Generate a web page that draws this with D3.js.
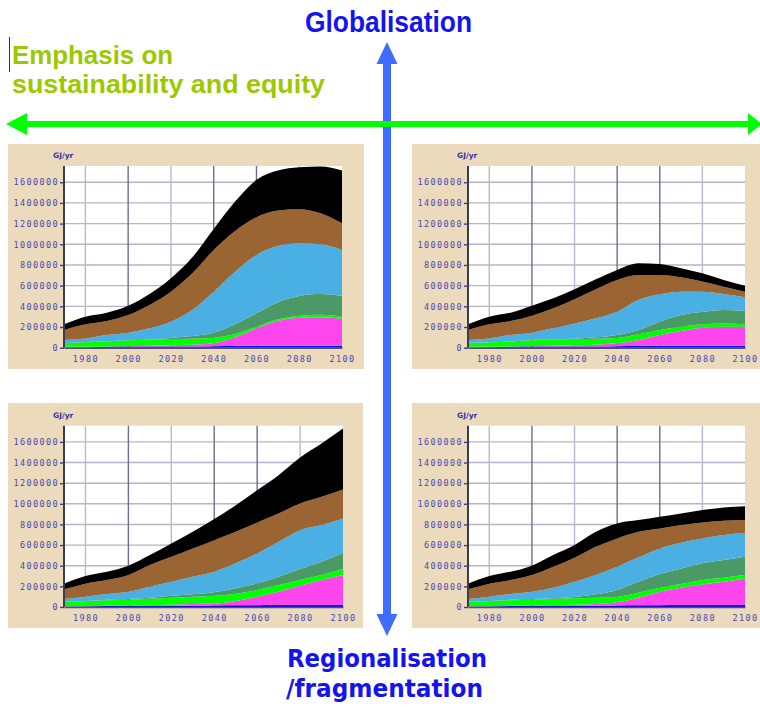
<!DOCTYPE html>
<html>
<head>
<meta charset="utf-8">
<script src="https://cdnjs.cloudflare.com/ajax/libs/d3/7.8.5/d3.min.js"></script>
<style>
body{margin:0;background:#fff;}
svg{display:block;}
.tick text{font-family:"DejaVu Sans Mono",monospace;font-size:8.5px;letter-spacing:1.4px;fill:#4848b4;}
</style>
</head>
<body>
<div id="chart"></div>
<script>
// years sampled every 10 years, 1970-2100
var years = [1970,1980,1990,2000,2010,2020,2030,2040,2050,2060,2070,2080,2090,2100];
// top edge of each stacked band, thousand GJ/yr
// top-left: globalisation + sustainability
var tlBlue    = [3,4,10,12,12,12,12,14,16,18,20,20,20,20];
var tlMagenta = [8,8,12,14,19,23,29,42,100,187,258,290,294,277];
var tlGreen   = [42,52,61,71,77,84,87,97,132,203,274,310,319,300];
var tlDkGreen = [44,54,63,73,80,94,113,145,226,332,439,500,519,500];
var tlLtBlue  = [74,90,123,145,187,252,365,542,735,897,984,1010,1000,945];
var tlBrown   = [171,226,258,316,413,542,719,945,1129,1261,1326,1339,1300,1203];
var tlBlack   = [226,300,339,406,519,671,874,1148,1413,1623,1713,1745,1752,1713];
// top-right: globalisation
var trBlue    = [3,4,10,12,12,12,12,14,16,18,20,20,20,20];
var trMagenta = [8,8,12,14,19,23,29,42,74,123,161,194,203,203];
var trGreen   = [42,52,61,71,77,84,87,94,129,171,203,226,235,226];
var trDkGreen = [48,52,61,74,81,87,100,123,171,252,316,348,365,355];
var trLtBlue  = [74,90,123,145,187,235,284,348,461,516,542,542,519,487];
var trBrown   = [171,226,258,310,381,468,565,655,703,703,681,639,590,542];
var trBlack   = [226,300,339,406,477,565,661,752,816,810,768,719,655,600];
// bottom-left: regionalisation + sustainability
var blBlue    = [3,4,10,12,12,12,12,14,16,18,20,20,20,20];
var blMagenta = [8,8,12,14,19,23,30,32,58,100,148,206,261,310];
var blGreen   = [48,55,65,71,80,90,100,110,129,165,213,261,310,368];
var blDkGreen = [52,58,71,77,90,110,123,142,181,229,294,368,439,526];
var blLtBlue  = [77,100,126,148,197,245,294,342,423,519,632,745,794,858];
var blBrown   = [171,226,261,310,406,487,568,648,729,819,906,1003,1068,1139];
var blBlack   = [226,300,342,400,503,616,729,852,987,1132,1277,1448,1584,1729];
// bottom-right: regionalisation
var brBlue    = [3,4,10,12,12,12,12,14,16,18,20,20,20,20];
var brMagenta = [8,8,12,14,19,23,29,45,90,148,187,219,245,277];
var brGreen   = [48,55,65,71,78,85,90,100,139,187,223,261,284,310];
var brDkGreen = [52,58,71,77,85,97,123,165,245,319,374,423,455,487];
var brLtBlue  = [77,100,126,148,187,245,310,390,481,568,623,665,697,719];
var brBrown   = [171,226,261,310,390,477,584,665,729,761,794,819,835,842];
var brBlack   = [226,300,342,400,503,600,729,810,842,874,906,939,965,977];

var yTicks = [0,200,400,600,800,1000,1200,1400,1600];
var xTicks = [1980,2000,2020,2040,2060,2080,2100];
var xGrid = [1980,2000,2020,2040,2060,2080];
var darkGrid = [2000,2040,2060];
var unitLabel = "GJ/yr";
var yMax = 1757;

var bandColors = ["#0000ee","#ff46ee","#00ff00","#4b9966","#4aafe2","#9a6433","#000000"];

var W = 760, H = 709;
var svg = d3.select("#chart").append("svg").attr("width",W).attr("height",H);

var panels = [
  {bx:8,   by:144, bw:356, bh:225, left:64,  right:342, top:166,   zero:347.7, bands:[tlBlue,tlMagenta,tlGreen,tlDkGreen,tlLtBlue,tlBrown,tlBlack]},
  {bx:412, by:144, bw:348, bh:225, left:468, right:745, top:166,   zero:347.7, bands:[trBlue,trMagenta,trGreen,trDkGreen,trLtBlue,trBrown,trBlack]},
  {bx:8,   by:403, bw:355, bh:225, left:64,  right:343, top:425.7, zero:607,   bands:[blBlue,blMagenta,blGreen,blDkGreen,blLtBlue,blBrown,blBlack]},
  {bx:412, by:403, bw:348, bh:225, left:468, right:745, top:425.7, zero:607,   bands:[brBlue,brMagenta,brGreen,brDkGreen,brLtBlue,brBrown,brBlack]}
];

function drawPanel(p){
  var x = d3.scaleLinear().domain([1970,2100]).range([p.left,p.right]);
  var y = d3.scaleLinear().domain([0,yMax]).range([p.zero,p.top]);
  var g = svg.append("g");
  g.append("rect").attr("x",p.bx).attr("y",p.by).attr("width",p.bw).attr("height",p.bh).attr("fill","#ecdabc");
  g.append("rect").attr("x",p.left).attr("y",p.top).attr("width",p.right-p.left).attr("height",p.zero-p.top).attr("fill","#fff");

  g.selectAll(".hgrid").data(yTicks.slice(1)).enter().append("line")
   .attr("x1",p.left).attr("x2",p.right)
   .attr("y1",function(d){return y(d);}).attr("y2",function(d){return y(d);})
   .attr("stroke","#b4b4c8").attr("stroke-width",1.4);
  g.selectAll(".vgrid").data(xGrid).enter().append("line")
   .attr("x1",function(d){return x(d);}).attr("x2",function(d){return x(d);})
   .attr("y1",p.top).attr("y2",p.zero)
   .attr("stroke",function(d){return darkGrid.indexOf(d)>=0 ? "#6e6e8c" : "#b8b8cc";})
   .attr("stroke-width",1.4);

  p.bands.forEach(function(tops,i){
    var below = i>0 ? p.bands[i-1] : null;
    var area = d3.area()
      .x(function(d,j){return x(years[j]);})
      .y0(function(d,j){return y(below ? below[j] : 0);})
      .y1(function(d){return y(d);})
      .curve(d3.curveMonotoneX);
    g.append("path").datum(tops).attr("d",area).attr("fill",bandColors[i]);
  });

  var ya = g.append("g").attr("transform","translate("+p.left+",0)")
    .call(d3.axisLeft(y).tickValues(yTicks).tickSize(4).tickPadding(1).tickFormat(function(d){return d*1000;}));
  ya.select(".domain").attr("stroke","#3c3c50").attr("stroke-width",2).attr("d","M0,"+p.top+"V"+p.zero);
  ya.selectAll(".tick line").attr("stroke","#3c3c8c").attr("stroke-width",1.4);

  var xa = g.append("g").attr("transform","translate(0,"+p.zero+")")
    .call(d3.axisBottom(x).tickValues(xTicks).tickSize(0).tickPadding(8).tickFormat(d3.format("d")));
  xa.select(".domain").attr("stroke","#505070").attr("stroke-width",1.4);

  g.append("text").attr("x",p.left-11).attr("y",p.top-8)
   .attr("font-family","DejaVu Sans").attr("font-size",7.5).attr("font-weight","bold")
   .attr("fill","#3434a8").text(unitLabel);
}

panels.forEach(drawPanel);

// axis arrows
var blue = "#3d6cff", green = "#00ff00";
svg.append("rect").attr("x",383).attr("y",60).attr("width",8).attr("height",558).attr("fill",blue);
svg.append("path").attr("d","M387,42L397.5,64L376.5,64Z").attr("fill",blue);
svg.append("path").attr("d","M387,636L397.5,614L376.5,614Z").attr("fill",blue);

svg.append("rect").attr("x",20).attr("y",121).attr("width",730).attr("height",6).attr("fill",green);
svg.append("path").attr("d","M6,124L27,113L27,135Z").attr("fill",green);
svg.append("path").attr("d","M762,124L748,113L748,135Z").attr("fill",green);

// labels
svg.append("text").attr("x",305).attr("y",32)
  .attr("font-family","'Liberation Sans Narrow','Liberation Sans',Arial,sans-serif").attr("font-weight","bold")
  .attr("font-size",29).attr("fill","#1414f0")
  .attr("textLength",167).attr("lengthAdjust","spacingAndGlyphs").text("Globalisation");

var lime = "#9cc800";
svg.append("text").attr("x",12).attr("y",64)
  .attr("font-family","'Liberation Sans Narrow','Liberation Sans',Arial,sans-serif").attr("font-weight","bold")
  .attr("font-size",26).attr("fill",lime)
  .attr("textLength",161).attr("lengthAdjust","spacingAndGlyphs").text("Emphasis on");
svg.append("text").attr("x",12).attr("y",93)
  .attr("font-family","'Liberation Sans Narrow','Liberation Sans',Arial,sans-serif").attr("font-weight","bold")
  .attr("font-size",26).attr("fill",lime)
  .attr("textLength",313).attr("lengthAdjust","spacingAndGlyphs").text("sustainability and equity");
svg.append("line").attr("x1",9.5).attr("x2",9.5).attr("y1",37).attr("y2",72).attr("stroke","#333").attr("stroke-width",1);

svg.append("text").attr("x",287).attr("y",667)
  .attr("font-family","'DejaVu Sans',Verdana,sans-serif").attr("font-weight","bold")
  .attr("font-size",25).attr("fill","#1414f0")
  .attr("textLength",200).attr("lengthAdjust","spacingAndGlyphs").text("Regionalisation");
svg.append("text").attr("x",286).attr("y",697)
  .attr("font-family","'DejaVu Sans',Verdana,sans-serif").attr("font-weight","bold")
  .attr("font-size",25).attr("fill","#1414f0")
  .attr("textLength",197).attr("lengthAdjust","spacingAndGlyphs").text("/fragmentation");
</script>
</body>
</html>
